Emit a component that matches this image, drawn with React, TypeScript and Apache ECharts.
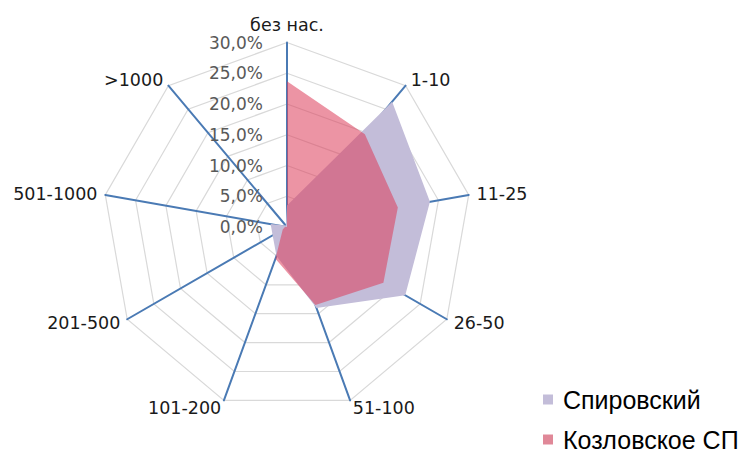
import React, { useEffect, useRef } from "react";
import * as echarts from "echarts";

const categories = ["без нас.", "1-10", "11-25", "26-50", "51-100", "101-200", "201-500", "501-1000", ">1000"];
const spirovskiy = [3.5, 26.6, 23.6, 22.2, 14.0, 5.0, 2.7, 2.7, 0.3];
const kozlovskoe = [23.7, 19.7, 18.3, 18.1, 13.5, 5.5, 0.8, 0.3, 0.0];
const seriesNames = ["Спировский", "Козловское СП"];
const axisMax = 30;
const axisStep = 5;

// ECharts lays radar indicators counter-clockwise; keep the first on top and reverse the rest
const order = [0, ...categories.map((_, i) => i).slice(1).reverse()];
const reorder = (arr: any[]) => order.map((i) => arr[i]);

export default function App() {
  const ref = useRef<HTMLDivElement>(null);
  useEffect(() => {
    if (!ref.current) return;
    const chart = echarts.init(ref.current, null, { renderer: "svg" });
    const indicator = reorder(categories).map((name, k) => {
      const o: any = { name, min: 0, max: axisMax };
      if (k === 0) {
        o.axisLabel = {
          show: true,
          color: "#595959",
          fontSize: 17,
          fontFamily: "DejaVu Sans",
          margin: 24,
          formatter: (v: number) => v.toFixed(1).replace(".", ",") + "%",
        };
      }
      return o;
    });
    chart.setOption({
      animation: false,
      backgroundColor: "#ffffff",
      legend: {
        orient: "vertical",
        left: 543,
        top: 387,
        height: 67,
        padding: 0,
        itemWidth: 10,
        itemHeight: 10,
        itemGap: 15,
        icon: "rect",
        data: seriesNames,
        textStyle: {
          fontSize: 25,
          lineHeight: 25,
          fontFamily: "Liberation Sans",
          color: "#000000",
          padding: [0, 0, 0, 5],
        },
      },
      radar: {
        center: [287, 227],
        radius: 184.5,
        shape: "polygon",
        splitNumber: axisMax / axisStep,
        indicator,
        nameGap: 8,
        axisName: { color: "#1a1a1a", fontSize: 17.5, fontFamily: "DejaVu Sans" },
        axisLine: { lineStyle: { color: "#4a7ab4", width: 2 } },
        axisTick: { show: false },
        axisLabel: { show: false },
        splitLine: { lineStyle: { color: "#d9d9d9", width: 1.2 } },
        splitArea: { show: false },
      },
      series: [
        {
          type: "radar",
          name: seriesNames[0],
          symbol: "none",
          z: 1,
          itemStyle: { color: "#c3bdd9" },
          lineStyle: { width: 0 },
          areaStyle: { color: "#c3bdd9", opacity: 1 },
          data: [{ name: seriesNames[0], value: reorder(spirovskiy) }],
        },
        {
          type: "radar",
          name: seriesNames[1],
          symbol: "none",
          z: 2,
          itemStyle: { color: "#e08898" },
          lineStyle: { width: 0 },
          areaStyle: { color: "rgba(220,60,90,0.55)", opacity: 1 },
          data: [{ name: seriesNames[1], value: reorder(kozlovskoe) }],
        },
      ],
    });
    return () => chart.dispose();
  }, []);
  return (
    <div
      ref={ref}
      style={{ position: "absolute", left: 0, top: 0, width: 754, height: 454 }}
    />
  );
}
